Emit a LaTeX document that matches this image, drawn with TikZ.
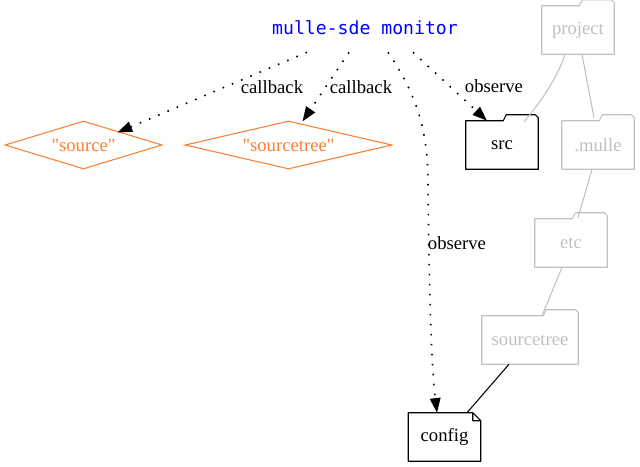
\documentclass[tikz,border=0pt]{standalone}
\usepackage{fontspec}
\setmainfont{Liberation Serif}
\newfontfamily\monofont{DejaVu Sans Mono}
\usetikzlibrary{shapes.geometric,arrows.meta,calc}
\definecolor{dirgray}{HTML}{C0C0C0}
\definecolor{cborange}{RGB}{250,128,50}
\tikzset{
  every node/.style={font=\fontsize{14}{17}\selectfont},
  callbox/.style={diamond, draw=cborange, text=cborange, line width=0.8pt, inner sep=0pt, minimum height=36pt},
  dirbox/.style={minimum width=54pt, minimum height=36pt, inner sep=0pt},
  watch/.style={dash pattern=on 1.2pt off 6.3pt, line width=1.2pt, -{Triangle[length=11pt,width=8pt]}},
  outline/.style={line width=0.8pt, line join=round},
}
% folder outline with the tab on the right
\newcommand{\folderline}[2]{\draw[outline,#2] (#1.south west) -- (#1.north west) -- ($(#1.north east)+(-35,0)$) -- ++(3,6) -- ++(29,0) -- ++(3,-3) -- (#1.south east) -- cycle;}
% note outline with the folded corner
\newcommand{\noteline}[2]{\draw[outline,#2] (#1.south west) -- (#1.north west) -- ($(#1.north east)+(-8,0)$) -- ($(#1.north east)+(0,-8)$) -- (#1.south east) -- cycle
  ($(#1.north east)+(-8,0)$) -- ($(#1.north east)+(-8,-8)$) -- ($(#1.north east)+(0,-8)$);}

\begin{document}
\begin{tikzpicture}[x=0.75pt,y=0.75pt]
  \useasboundingbox (0,0) rectangle (640,-467);
  % monitor and its callbacks
  \node[text=blue, font=\monofont\fontsize{13.6}{16}\selectfont, minimum height=36pt] (monitor) at (365,-28) {mulle-sde monitor};
  \node[callbox, minimum width=117.75pt, aspect=3.3] (source) at (83.5,-145) {\textquotedbl source\textquotedbl};
  \node[callbox, minimum width=155.25pt, aspect=4.3] (sourcetree) at (288.5,-145) {\textquotedbl sourcetree\textquotedbl};
  % directories
  \node[dirbox, text=dirgray] (project) at (578,-30) {project};
  \node[dirbox] (src) at (502,-145) {src};
  \node[dirbox, text=dirgray] (mulle) at (598,-145) {.mulle};
  \node[dirbox, text=dirgray] (etc) at (571,-243) {etc};
  \node[dirbox, minimum width=72pt, text=dirgray] (stree) at (530,-340) {sourcetree};
  \node[dirbox] (config) at (444.5,-437) {config};
  \folderline{project}{dirgray}
  \folderline{src}{black}
  \folderline{mulle}{dirgray}
  \folderline{etc}{dirgray}
  \folderline{stree}{dirgray}
  \noteline{config}{black}
  % tree edges
  \draw[outline, dirgray] ($(project.south)+(-13,0)$) .. controls ($(project.south)+(-20,-22)$) and ($(src.north)+(40,20)$) .. ($(src.north)+(22,-1)$);
  \draw[outline, dirgray] ($(project.south)+(4,0)$) -- ($(mulle.north)+(-4,3)$);
  \draw[outline, dirgray] ($(mulle.south)+(-6,0)$) -- ($(etc.north)+(7,1)$);
  \draw[outline, dirgray] ($(etc.south)+(-9,0)$) -- ($(stree.north)+(12,0)$);
  \draw[outline] ($(stree.south)+(-21,0)$) -- ($(config.north)+(22.5,0)$);
  % observed edges
  \draw[watch] ($(monitor.south)+(-58,0)$) -- ($(source.north)+(34,-12)$);
  \draw[watch] ($(monitor.south)+(-16,0)$) -- ($(sourcetree.north)+(14,-1)$);
  \draw[watch] ($(monitor.south)+(48,0)$) -- ($(src.north)+(-15,0)$);
  \draw[watch] ($(monitor.south)+(23,0)$) .. controls ($(monitor.south)+(50,-40)$) and ($(monitor.south)+(63,-75)$) .. ($(monitor.south)+(63,-130)$) .. controls ($(monitor.south)+(64,-250)$) and ($(monitor.south)+(67,-320)$) .. ($(config.north)+(-7.5,0)$);
  % labels
  \node (cb1) at (272,-87) {callback};
  \node (cb2) at (361,-87) {callback};
  \node (ob1) at (494,-86) {observe};
  \node (ob2) at (457,-243) {observe};
\end{tikzpicture}
\end{document}
